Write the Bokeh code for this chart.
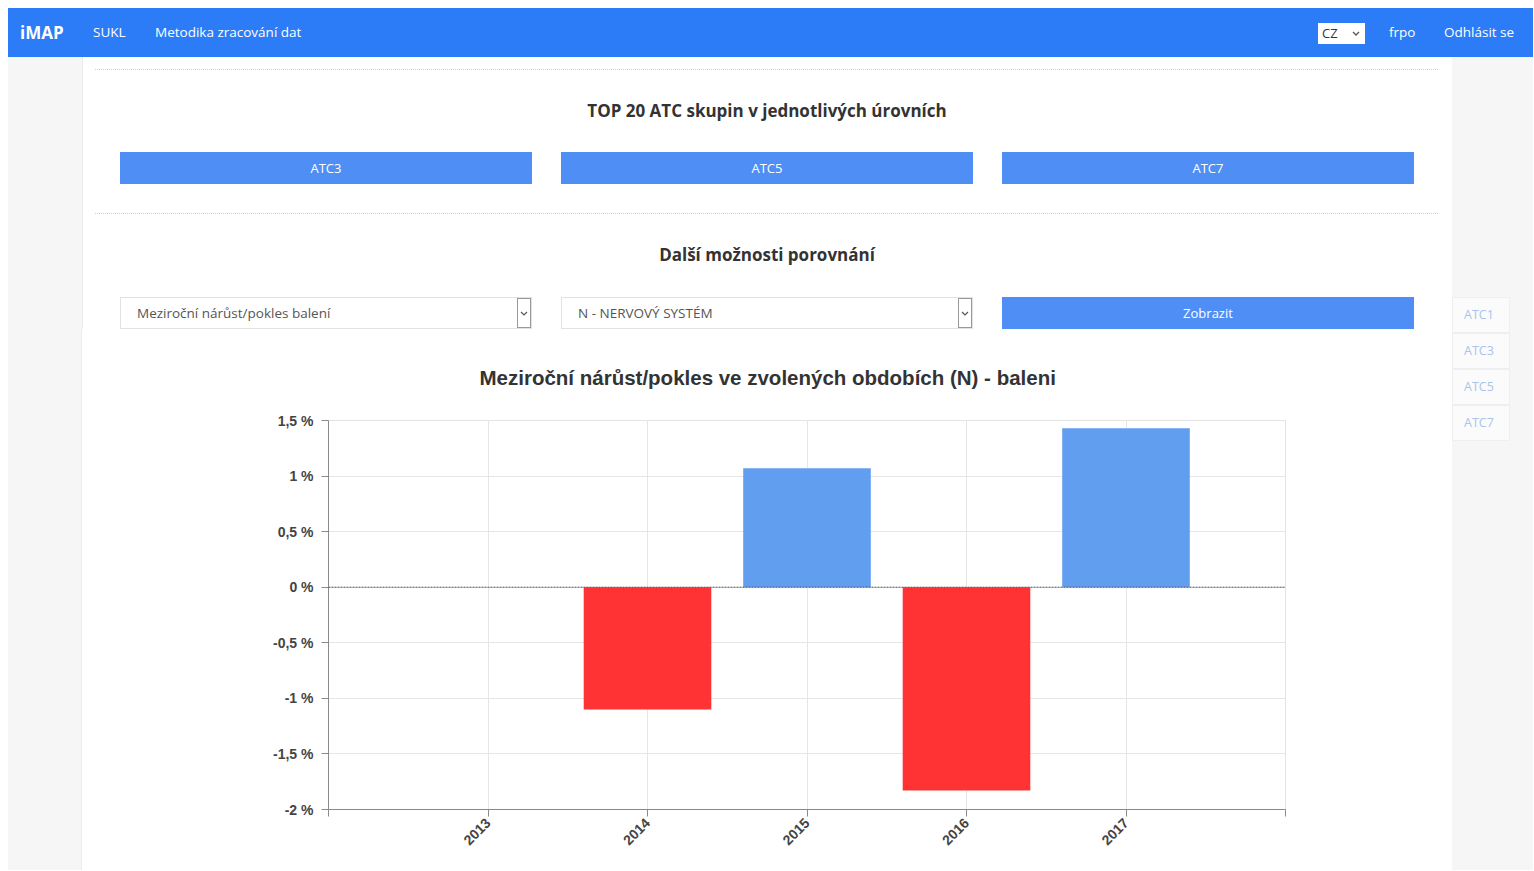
from bokeh.plotting import figure
from bokeh.models import Div, Span, FixedTicker, ColumnDataSource
from bokeh.layouts import column, row
from bokeh.embed import file_html
from bokeh.resources import INLINE
import math

# ---------------- data ----------------
years = [2013, 2014, 2015, 2016, 2017]
change_pct = [float("nan"), -1.10, 1.07, -1.83, 1.43]
x_tick_values = [2012, 2013, 2014, 2015, 2016, 2017, 2018]
x_tick_labels = ["", "2013", "2014", "2015", "2016", "2017", ""]
y_tick_values = [-2, -1.5, -1, -0.5, 0, 0.5, 1, 1.5]
y_tick_labels = ["-2 %", "-1,5 %", "-1 %", "-0,5 %", "0 %", "0,5 %", "1 %", "1,5 %"]
chart_title = "Meziroční nárůst/pokles ve zvolených obdobích (N) - baleni"

nav_left = ["SUKL", "Metodika zracování dat"]
top_buttons = ["ATC3", "ATC5", "ATC7"]
side_nav = ["ATC1", "ATC3", "ATC5", "ATC7"]

POS = "#629ef0"
NEG = "#ff3333"
NAV = "#2b7cf6"
BTN = "#4f8ef5"
BG = "#f6f6f6"
FONT = "'Open Sans', sans-serif"

NAV_W = 1525
TOP_H = 272
FIG_H = 541
RIGHT_W = 81
RIGHT_H = 813

# ---------------- navbar ----------------
nav_html = f"""
<div style="position:relative;width:{NAV_W}px;height:49px;background:{NAV};font-family:{FONT};color:#fff;overflow:hidden;">
  <span style="position:absolute;left:12px;top:0;line-height:49px;font-size:17px;font-weight:700;">iMAP</span>
  <span style="position:absolute;left:85px;top:0;line-height:49px;font-size:13.5px;">{nav_left[0]}</span>
  <span style="position:absolute;left:147px;top:0;line-height:49px;font-size:13.5px;">{nav_left[1]}</span>
  <div style="position:absolute;left:1310px;top:15px;width:47px;height:21px;background:#fff;color:#333;font-size:13px;line-height:21px;box-sizing:border-box;padding-left:4px;">CZ
     <svg style="position:absolute;left:34px;top:8px" width="8" height="6"><polyline points="1,1 4,4 7,1" stroke="#555" stroke-width="1.3" fill="none"/></svg></div>
  <span style="position:absolute;left:1381px;top:0;line-height:49px;font-size:13.5px;">frpo</span>
  <span style="position:absolute;left:1436px;top:0;line-height:49px;font-size:13.5px;">Odhlásit se</span>
</div>"""
nav = Div(text=nav_html, width=NAV_W, height=49, margin=0)

# ---------------- top content ----------------
def button(left, top, label):
    return (f'<div style="position:absolute;left:{left}px;top:{top}px;width:412px;height:32px;background:{BTN};'
            f'color:#fff;font-size:13px;line-height:32px;text-align:center;">{label}</div>')

def select(left, top, label):
    return (f'<div style="position:absolute;left:{left}px;top:{top}px;width:412px;height:32px;border:1px solid #e2e2e2;'
            f'box-sizing:border-box;background:#fff;color:#555;font-size:13.5px;line-height:30px;padding-left:16px;">{label}'
            f'<div style="position:absolute;right:0;top:0;width:14px;height:30px;border:1px solid #999;box-sizing:border-box;background:#fff;">'
            f'<svg style="position:absolute;left:2px;top:12px" width="8" height="6"><polyline points="1,1 4,4 7,1" stroke="#555" stroke-width="1.2" fill="none"/></svg></div></div>')

top_html = f"""
<div style="position:relative;width:1444px;height:{TOP_H}px;background:{BG};font-family:{FONT};overflow:hidden;">
  <div style="position:absolute;left:74px;top:0;width:1370px;height:{TOP_H}px;background:#fff;border-left:1px solid #ececec;box-sizing:border-box;"></div>
  <div style="position:absolute;left:87px;top:12px;width:1343px;border-top:1px dotted #cfcfcf;"></div>
  <div style="position:absolute;left:74px;top:42px;width:1370px;text-align:center;line-height:24px;font-size:17px;font-weight:700;color:#333;">TOP 20 ATC skupin v jednotlivých úrovních</div>
  {button(112, 95, top_buttons[0])}
  {button(553, 95, top_buttons[1])}
  {button(994, 95, top_buttons[2])}
  <div style="position:absolute;left:87px;top:156px;width:1343px;border-top:1px dotted #cfcfcf;"></div>
  <div style="position:absolute;left:74px;top:186px;width:1370px;text-align:center;line-height:24px;font-size:17px;font-weight:700;color:#333;">Další možnosti porovnání</div>
  {select(112, 240, "Meziroční nárůst/pokles balení")}
  {select(553, 240, "N - NERVOVÝ SYSTÉM")}
  {button(994, 240, "Zobrazit")}
</div>"""
top = Div(text=top_html, width=1444, height=TOP_H, margin=0)

# ---------------- right side strip ----------------
items = ""
for i, lab in enumerate(side_nav):
    items += (f'<div style="position:absolute;left:0;top:{240 + 36 * i}px;width:58px;height:36px;background:#fbfbfb;'
              f'border:1px solid #efefef;box-sizing:border-box;color:#a9c3ec;font-size:12.5px;line-height:34px;padding-left:11px;">{lab}</div>')
right_html = f"""
<div style="position:relative;width:{RIGHT_W}px;height:{RIGHT_H}px;background:{BG};font-family:{FONT};overflow:hidden;">
  {items}
</div>"""
right = Div(text=right_html, width=RIGHT_W, height=RIGHT_H, margin=0)

left = Div(text=f'<div style="width:74px;height:{FIG_H}px;background:{BG};border-right:1px solid #ececec;box-sizing:border-box;"></div>',
           width=74, height=FIG_H, margin=0)

# ---------------- chart ----------------
src = ColumnDataSource(dict(
    x=years,
    top=change_pct,
    color=[POS if (v == v and v >= 0) else NEG for v in change_pct],
))

p = figure(width=1370, height=FIG_H, x_range=(2012, 2018), y_range=(-2, 1.5),
           output_backend="svg", toolbar_location=None, title=chart_title,
           min_border_left=246, min_border_right=167, min_border_top=91, min_border_bottom=61,
           margin=0)
p.title.align = "left"
p.title.offset = 151
p.title.text_font = "Liberation Sans"
p.title.text_font_size = "20.5px"
p.title.text_font_style = "bold"
p.title.text_color = "#333333"
p.title.standoff = 64

p.background_fill_color = "#ffffff"
p.border_fill_color = "#ffffff"
p.outline_line_color = "#e3e3e3"

p.vbar(x="x", top="top", bottom=0, width=0.8, fill_color="color", line_color=None, source=src)

p.add_layout(Span(location=0, dimension="width", line_color="#555555", line_width=1, line_dash="2 1"))

p.xaxis.ticker = FixedTicker(ticks=x_tick_values)
p.xaxis.major_label_overrides = dict(zip(x_tick_values, x_tick_labels))
p.xaxis.major_label_orientation = math.pi / 4
p.yaxis.ticker = FixedTicker(ticks=y_tick_values)
p.yaxis.major_label_overrides = dict(zip(y_tick_values, y_tick_labels))

for ax in (p.xaxis, p.yaxis):
    ax.axis_line_color = "#8a8a8a"
    ax.major_tick_line_color = "#8a8a8a"
    ax.major_tick_out = 7
    ax.major_tick_in = 0
    ax.minor_tick_line_color = None
    ax.major_label_text_font = "Liberation Sans"
    ax.major_label_text_font_style = "bold"
    ax.major_label_text_color = "#444444"
p.yaxis.major_label_standoff = 8
p.xaxis.major_label_standoff = 4
p.yaxis.major_label_text_font_size = "14px"
p.xaxis.major_label_text_font_size = "14px"

p.xgrid.ticker = FixedTicker(ticks=years)
p.xgrid.grid_line_color = "#e6e6e6"
p.ygrid.grid_line_color = "#e6e6e6"

main = column(top, row(left, p, margin=0), margin=0)
layout = column(nav, row(main, right, margin=0), margin=(8, 0, 0, 8))

open("out.html", "w").write(file_html(layout, INLINE))
